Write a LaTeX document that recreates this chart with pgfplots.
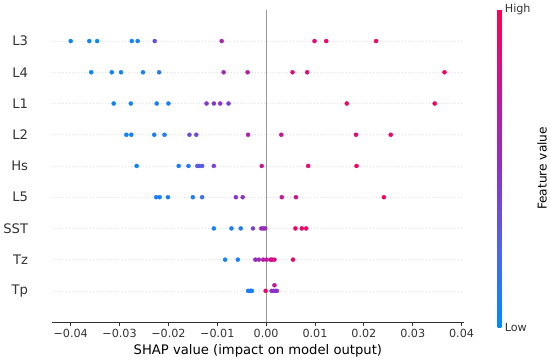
\documentclass[border=0pt]{standalone}
\usepackage{pgfplots}
\pgfplotsset{compat=1.18}
\usepackage{fontspec}
\setmainfont{DejaVu Sans}
\definecolor{axisc}{HTML}{333333}
\definecolor{zeroc}{HTML}{999999}
\definecolor{gridc}{HTML}{E4E4E4}
\pgfplotsset{colormap={shap}{rgb255=(0,139,251) rgb255=(80,100,235) rgb255=(140,50,200) rgb255=(200,20,150) rgb255=(255,0,82)}}
\begin{document}
\begin{tikzpicture}
\path (0,0) rectangle (550pt,367pt);
\begin{axis}[
  at={(52.6pt,39pt)}, anchor=south west,
  scale only axis, width=419.9pt, height=318pt,
  xmin=-0.0439, xmax=0.0405, ymin=-1, ymax=9,
  scaled x ticks=false,
  axis x line*=bottom, axis y line*=left,
  y axis line style={draw=none},
  x axis line style={axisc, line width=0.8pt},
  xtick={-0.04,-0.03,-0.02,-0.01,0,0.01,0.02,0.03,0.04},
  xticklabels={−0.04,−0.03,−0.02,−0.01,0.00,0.01,0.02,0.03,0.04},
  xtick align=outside, xtick style={axisc, line width=0.8pt},
  major tick length=3.6pt,
  xticklabel style={font=\fontsize{11.4}{13}\selectfont, text=axisc},
  ytick={0,1,2,3,4,5,6,7,8},
  yticklabels={Tp,Tz,SST,L5,Hs,L2,L1,L4,L3},
  ytick style={draw=none},
  yticklabel style={font=\fontsize{13.4}{15}\selectfont, text=axisc, xshift=-20.5pt},
  ymajorgrids, y grid style={gridc, line width=0.5pt, dash pattern=on 0.5pt off 2.5pt},
  xlabel={SHAP value (impact on model output)},
  xlabel style={font=\fontsize{13.4}{15}\selectfont},
  colormap name=shap,
  point meta min=0, point meta max=1,
  colorbar right,
  colorbar style={
    at={(parent axis.south east)}, anchor=south west, xshift=25.8pt, yshift=-5pt,
    scale only axis, width=3.7pt, height=323pt,
    ytick={0,1}, yticklabels={Low,High}, yticklabel pos=right,
    major tick length=0pt,
    axis line style={draw=none},
    yticklabel style={font=\fontsize{11.4}{13}\selectfont, text=axisc},
    ylabel={Feature value},
    ylabel style={font=\fontsize{12.4}{14}\selectfont},
  },
]
\addplot[zeroc, line width=1.3pt, forget plot] coordinates {(0,-1) (0,9)};
\addplot[scatter, only marks, mark=*, mark size=2.05pt, scatter src=explicit,
  scatter/use mapped color={draw=mapped color, fill=mapped color}]
  table[x=x, y=y, meta=c] {
x y c
-0.0400 8 0.02
-0.0362 8 0.03
-0.0346 8 0.02
-0.0275 8 0.05
-0.0263 8 0.08
-0.0228 8 0.35
-0.0091 8 0.62
0.0099 8 0.88
0.0123 8 0.90
0.0225 8 0.95
-0.0358 7 0.03
-0.0316 7 0.05
-0.0297 7 0.05
-0.0252 7 0.08
-0.0219 7 0.12
-0.0087 7 0.60
-0.0038 7 0.68
0.0054 7 0.85
0.0084 7 0.85
0.0365 7 0.95
-0.0312 6 0.03
-0.0277 6 0.05
-0.0224 6 0.08
-0.0200 6 0.08
-0.0122 6 0.45
-0.0107 6 0.48
-0.0094 6 0.48
-0.0077 6 0.45
0.0165 6 0.92
0.0345 6 0.95
-0.0286 5 0.05
-0.0276 5 0.08
-0.0229 5 0.08
-0.0208 5 0.10
-0.0157 5 0.38
-0.0143 5 0.38
-0.0037 5 0.65
0.0031 5 0.75
0.0184 5 0.90
0.0255 5 0.95
-0.0265 4 0.03
-0.0179 4 0.08
-0.0159 4 0.10
-0.0141 4 0.28
-0.0137 4 0.30
-0.0131 4 0.30
-0.0107 4 0.42
-0.0009 4 0.75
0.0086 4 0.88
0.0185 4 0.95
-0.0225 3 0.08
-0.0218 3 0.08
-0.0201 3 0.08
-0.0150 3 0.10
-0.0131 3 0.20
-0.0062 3 0.50
-0.0048 3 0.50
0.0032 3 0.75
0.0061 3 0.80
0.0241 3 0.95
-0.0107 2 0.05
-0.0071 2 0.08
-0.0052 2 0.10
-0.0027 2 0.40
-0.0010 2 0.55
-0.0006 2 0.55
-0.0002 2 0.55
0.0060 2 0.92
0.0073 2 0.92
0.0082 2 0.92
-0.0084 1 0.05
-0.0058 1 0.08
-0.0022 1 0.55
-0.0015 1 0.55
-0.0006 1 0.70
0.0001 1 0.70
0.0009 1 0.80
0.0012 1 0.82
0.0017 1 0.82
0.0055 1 0.92
-0.0037 0 0.08
-0.0033 0 0.08
-0.0031 0 0.08
-0.0029 0 0.08
-0.0001 0 0.92
0.0011 0 0.50
0.0015 0 0.50
0.0019 0 0.50
0.0022 0 0.50
0.0017 0.18 0.70
};
\end{axis}
\end{tikzpicture}
\end{document}
